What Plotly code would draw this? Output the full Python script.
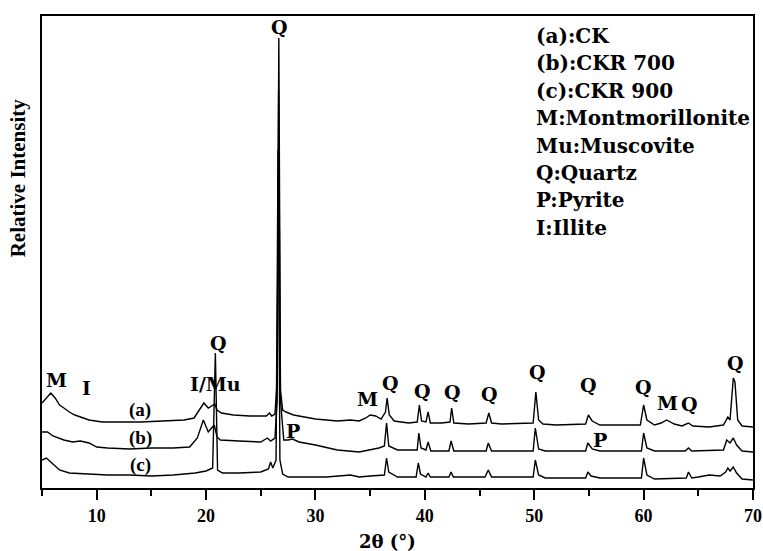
import plotly.graph_objects as go

# ---------------- data ----------------
two_theta_a = [5.0, 5.4, 5.8, 6.2, 6.6, 7.0, 7.5, 8.0, 8.5, 9.3, 10.5, 12.0, 14.0, 16.0, 18.0, 18.9, 19.4, 19.8,
               20.2, 20.5, 20.8, 21.0, 21.4, 22.5, 24.0, 25.5, 25.8, 26.0, 26.3, 26.5, 26.65, 26.8, 27.0, 27.3,
               28.0, 30.0, 32.0, 33.2, 34.0, 34.6, 35.0, 35.5, 36.0, 36.4, 36.55, 36.75, 37.2, 38.5, 39.3, 39.5,
               39.7, 40.1, 40.3, 40.5, 41.5, 42.3, 42.45, 42.65, 44.0, 45.6, 45.85, 46.1, 47.0, 49.9, 50.15, 50.4,
               50.8, 52.0, 54.7, 54.95, 55.3, 56.0, 59.7, 60.0, 60.3, 61.0, 61.6, 62.1, 62.8, 63.5, 64.1, 64.5,
               66.0, 67.3, 67.7, 67.9, 68.2, 68.35, 68.45, 68.6, 69.0, 70.0]
intensity_a = [85, 90, 95, 90, 83, 80, 76, 73, 71, 68, 66, 66, 66, 67, 68, 70, 78, 85,
               80, 82, 84, 78, 75, 73, 72, 72, 75, 72, 74, 108, 450, 98, 78, 76,
               73, 69, 67, 68, 67, 70, 73, 72, 69, 76, 90, 73, 67, 65, 66, 83,
               67, 66, 76, 65, 65, 66, 80, 65, 64, 65, 75, 65, 64, 65, 96, 68,
               64, 63, 64, 73, 67, 63, 63, 83, 68, 63, 65, 68, 64, 62, 65, 62,
               61, 63, 71, 68, 110, 106, 90, 68, 62, 61]

two_theta_b = [5.0, 5.5, 6.0, 7.0, 7.8, 8.5, 9.3, 10.0, 11.0, 13.0, 15.0, 17.0, 18.5, 19.2, 19.75, 20.2, 20.5,
               20.75, 21.0, 21.3, 23.0, 25.0, 25.6, 25.9, 26.3, 26.5, 26.63, 26.8, 27.1, 27.5, 27.9, 28.5, 30.0,
               32.0, 34.0, 35.0, 35.8, 36.3, 36.5, 36.7, 37.5, 39.3, 39.45, 39.65, 40.1, 40.3, 40.55, 42.2, 42.4,
               42.65, 45.6, 45.8, 46.1, 49.9, 50.1, 50.4, 51.0, 54.7, 54.9, 55.3, 56.0, 59.8, 60.0, 60.3, 61.0,
               63.8, 64.1, 64.4, 67.3, 67.6, 67.9, 68.2, 68.5, 69.0, 70.0]
intensity_b = [56, 56, 52, 48, 46, 47, 45, 41, 40, 39, 40, 40, 41, 50, 68, 56, 60,
               63, 51, 48, 47, 46, 50, 47, 50, 88, 398, 88, 48, 48, 49, 46, 43,
               38, 36, 38, 40, 42, 65, 42, 38, 38, 55, 40, 38, 46, 37, 37, 47,
               37, 37, 45, 37, 37, 60, 39, 37, 37, 45, 39, 37, 37, 55, 40, 37,
               37, 40, 37, 38, 48, 45, 50, 43, 37, 36]

two_theta_c = [5.0, 5.4, 6.0, 6.6, 7.5, 9.0, 11.0, 13.0, 15.0, 17.0, 19.0, 20.0, 20.6, 20.85, 21.05, 21.5,
               23.0, 25.0, 25.7, 25.9, 26.1, 26.4, 26.58, 26.75, 27.0, 27.5, 29.0, 31.0, 33.2, 34.0, 35.0, 36.3,
               36.5, 36.7, 37.5, 39.2, 39.4, 39.6, 40.1, 40.3, 40.5, 42.2, 42.4, 42.6, 45.5, 45.8, 46.1, 49.9,
               50.1, 50.4, 51.0, 54.7, 54.9, 55.2, 56.0, 59.8, 60.0, 60.3, 61.0, 63.9, 64.1, 64.4, 65.0, 66.0,
               67.0, 67.5, 67.7, 67.9, 68.2, 68.5, 69.0, 70.0]
intensity_c = [28, 30, 24, 18, 15, 14, 13, 13, 12, 13, 15, 17, 20, 135, 18, 15,
               15, 16, 19, 26, 20, 28, 338, 28, 14, 11, 11, 11, 13, 11, 12, 13,
               30, 16, 11, 11, 25, 14, 11, 15, 11, 11, 16, 11, 11, 18, 11, 11,
               28, 13, 10, 10, 16, 12, 10, 10, 30, 13, 9, 10, 16, 10, 11, 13,
               12, 16, 20, 17, 21, 15, 9, 8]

x_tick_values = [10, 20, 30, 40, 50, 60, 70]
x_tick_labels = ["10", "20", "30", "40", "50", "60", "70"]

legend_lines = ["(a):CK", "(b):CKR 700", "(c):CKR 900", "M:Montmorillonite",
                "Mu:Muscovite", "Q:Quartz", "P:Pyrite", "I:Illite"]

peak_label_text = ["M", "I", "Q", "I/Mu", "Q", "P", "M", "Q", "Q", "Q", "Q", "Q", "Q", "P", "Q", "M", "Q", "Q"]
peak_label_x = [6.31, 9.05, 21.13, 20.86, 26.71, 27.99, 34.76, 36.86, 39.79, 42.54, 45.92, 50.31, 54.98,
                55.99, 60.01, 62.21, 64.22, 68.43]
peak_label_y = [108, 100, 145, 104, 461, 57, 89, 105, 97, 96, 94, 116, 103, 48, 101, 85, 84, 125]

curve_names = ["(a)", "(b)", "(c)"]
curve_name_x = [14.0, 14.0, 14.0]
curve_name_y = [78, 50, 23]

# ---------------- figure ----------------
fig = go.Figure()
for xs, ys, nm in [(two_theta_a, intensity_a, "CK"), (two_theta_b, intensity_b, "CKR 700"),
                   (two_theta_c, intensity_c, "CKR 900")]:
    fig.add_trace(go.Scatter(x=xs, y=ys, mode="lines", name=nm,
                             line=dict(color="black", width=1.4), showlegend=False))

serif = "Liberation Serif, Times New Roman, serif"
wide = "DejaVu Serif, serif"

annotations = []
for t, x, y in zip(peak_label_text, peak_label_x, peak_label_y):
    annotations.append(dict(x=x, y=y, xref="x", yref="y", text=f"<b>{t}</b>", showarrow=False,
                            xanchor="center", yanchor="middle",
                            font=dict(family=wide, size=19, color="black")))
for t, x, y in zip(curve_names, curve_name_x, curve_name_y):
    annotations.append(dict(x=x, y=y, xref="x", yref="y", text=f"<b>{t}</b>", showarrow=False,
                            xanchor="center", yanchor="middle",
                            font=dict(family=serif, size=19, color="black")))
for i, t in enumerate(legend_lines):
    annotations.append(dict(x=50.0, y=452 - i * 27.4, xref="x", yref="y", text=f"<b>{t}</b>",
                            showarrow=False, xanchor="left", yanchor="middle",
                            font=dict(family=wide, size=20, color="black")))
# axis titles
annotations.append(dict(x=(387 - 41.7) / 711.3, y=(488 - 541) / 472, xref="paper", yref="paper",
                        text="<b>2θ (°)</b>", showarrow=False, xanchor="center", yanchor="middle",
                        font=dict(family=wide, size=18, color="black")))
annotations.append(dict(x=(18 - 41.7) / 711.3, y=(488 - 178) / 472, xref="paper", yref="paper",
                        text="<b>Relative Intensity</b>", showarrow=False, textangle=-90,
                        xanchor="center", yanchor="middle",
                        font=dict(family=serif, size=21, color="black")))

fig.update_layout(
    width=763, height=551,
    margin=dict(l=42, r=10, t=16, b=63, pad=0, autoexpand=False),
    paper_bgcolor="white", plot_bgcolor="white",
    annotations=annotations,
    xaxis=dict(range=[5, 70], showgrid=False, zeroline=False, automargin=False,
               showline=True, mirror=True, linecolor="black", linewidth=2,
               ticks="outside", ticklen=10, tickwidth=2, tickcolor="black",
               tickvals=x_tick_values, ticktext=x_tick_labels,
               tickfont=dict(family=serif, size=18, color="black", weight="bold"),
               minor=dict(tickvals=[5, 15, 25, 35, 45, 55, 65], ticks="outside", ticklen=6,
                          tickwidth=2, tickcolor="black")),
    yaxis=dict(range=[0, 472], showgrid=False, zeroline=False, showticklabels=False, automargin=False,
               showline=True, mirror=True, linecolor="black", linewidth=2, ticks=""),
)

# remove the default 8px page margin so the figure sits at the window's top-left corner
fig.write_html("out.html", config={"displayModeBar": False},
               post_script="document.body.style.margin='0';")
